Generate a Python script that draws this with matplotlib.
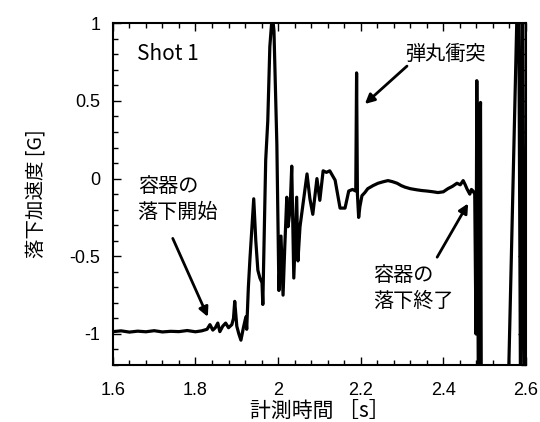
"""Drop acceleration trace, Shot 1."""
import matplotlib
matplotlib.use('Agg')
import matplotlib.pyplot as plt
from matplotlib.ticker import MultipleLocator, FuncFormatter

# time [s] and acceleration [G]
t = [1.600, 1.620, 1.640, 1.660, 1.680, 1.700, 1.720, 1.740, 1.760, 1.780,
     1.800, 1.815, 1.828, 1.835, 1.842, 1.848, 1.854, 1.859, 1.866, 1.873,
     1.880, 1.888, 1.892, 1.895, 1.900, 1.905, 1.910, 1.916, 1.922, 1.924,
     1.928, 1.932, 1.941, 1.946, 1.951, 1.956, 1.961, 1.963, 1.970, 1.975,
     1.980, 1.986, 1.990, 1.997, 2.002, 2.007, 2.012, 2.016, 2.021, 2.024,
     2.029, 2.033, 2.038, 2.045, 2.048, 2.053, 2.060, 2.070, 2.077, 2.084,
     2.094, 2.101, 2.109, 2.117, 2.125, 2.138, 2.150, 2.162, 2.171, 2.180,
     2.188, 2.190, 2.192, 2.195, 2.198, 2.203, 2.210, 2.217, 2.230, 2.242,
     2.255, 2.266, 2.277, 2.288, 2.298, 2.307, 2.320, 2.335, 2.348, 2.360,
     2.375, 2.387, 2.400, 2.411, 2.422, 2.433, 2.441, 2.448, 2.453, 2.457,
     2.464, 2.468, 2.472, 2.476, 2.479, 2.481, 2.483, 2.485, 2.487, 2.490,
     2.492, 2.520, 2.556, 2.582, 2.587, 2.592, 2.596]
g = [-0.985, -0.980, -0.988, -0.982, -0.986, -0.979, -0.987, -0.983, -0.985, -0.978,
     -0.986, -0.980, -0.970, -0.940, -0.975, -0.960, -0.930, -0.985, -0.950, -0.930,
     -0.960, -0.940, -0.900, -0.790, -0.950, -1.000, -1.040, -0.960, -0.890, -0.970,
     -0.700, -0.510, -0.130, -0.400, -0.590, -0.640, -0.670, -0.810, 0.120, 0.370,
     0.850, 1.060, 0.950, 0.220, -0.720, -0.370, -0.750, -0.450, -0.120, -0.310,
     -0.200, 0.080, -0.640, -0.120, -0.530, -0.310, -0.170, 0.030, -0.130, -0.230,
     0.000, -0.140, 0.050, 0.040, 0.050, -0.010, -0.190, -0.190, -0.080, -0.070,
     -0.080, 0.680, -0.100, -0.250, -0.180, -0.110, -0.090, -0.065, -0.045, -0.030,
     -0.020, -0.013, -0.020, -0.030, -0.045, -0.055, -0.065, -0.072, -0.077, -0.080,
     -0.085, -0.090, -0.085, -0.065, -0.050, -0.030, -0.040, -0.013, -0.040, -0.065,
     -0.100, -0.070, -0.080, -0.100, -1.000, 0.630, -0.300, -1.500, 0.200, 0.490,
     -1.500, -1.500, -1.500, 1.500, -1.500, 1.500, -1.500]

xticks = [1.6, 1.8, 2.0, 2.2, 2.4, 2.6]
yticks = [-1, -0.5, 0, 0.5, 1]

jp = ['Noto Sans CJK JP', 'DejaVu Sans']
num = ['Liberation Sans', 'DejaVu Sans']

fig = plt.figure(figsize=(5.4, 4.22), dpi=100)
ax = fig.add_axes([0.209, 0.135, 0.765, 0.81])

ax.plot(t, g, color='black', lw=2.3)

ax.set_xlim(1.6, 2.6)
ax.set_ylim(-1.2, 1.0)
ax.set_xticks(xticks)
ax.set_yticks(yticks)
ax.xaxis.set_minor_locator(MultipleLocator(0.04))
ax.yaxis.set_minor_locator(MultipleLocator(0.1))
fmt = FuncFormatter(lambda v, p: '%g' % v)
ax.xaxis.set_major_formatter(fmt)
ax.yaxis.set_major_formatter(fmt)
ax.tick_params(which='both', direction='in', top=True, right=True, width=1.0)
ax.tick_params(which='major', length=5.5)
ax.tick_params(which='minor', length=3.5)
ax.tick_params(axis='x', pad=12)
ax.tick_params(axis='y', pad=9)
for lab in ax.get_xticklabels() + ax.get_yticklabels():
    lab.set_family(num)
    lab.set_fontsize(13)
for s in ax.spines.values():
    s.set_linewidth(1.5)

ax.set_xlabel('計測時間 ［s］', family=jp, fontsize=15, labelpad=1)
ax.set_ylabel('落下加速度 [G]', family=jp, fontsize=14, labelpad=16)

ax.text(1.658, 0.80, 'Shot 1', family=jp, fontsize=15, va='center')
ax.text(1.66, -0.135, '容器の\n落下開始', family=jp, fontsize=14.5, va='center',
        linespacing=1.3)
ax.text(2.307, 0.80, '弾丸衝突', family=jp, fontsize=14.5, va='center')
ax.text(2.23, -0.705, '容器の\n落下終了', family=jp, fontsize=14.5, va='center',
        linespacing=1.3)

arrow = dict(arrowstyle='-|>', lw=2, color='black', mutation_scale=14,
             shrinkA=0, shrinkB=0)
ax.annotate('', xy=(1.830, -0.89), xytext=(1.745, -0.385), arrowprops=arrow)
ax.annotate('', xy=(2.210, 0.48), xytext=(2.312, 0.724), arrowprops=arrow)
ax.annotate('', xy=(2.460, -0.16), xytext=(2.385, -0.506), arrowprops=arrow)

plt.savefig('out.png', dpi=100)
